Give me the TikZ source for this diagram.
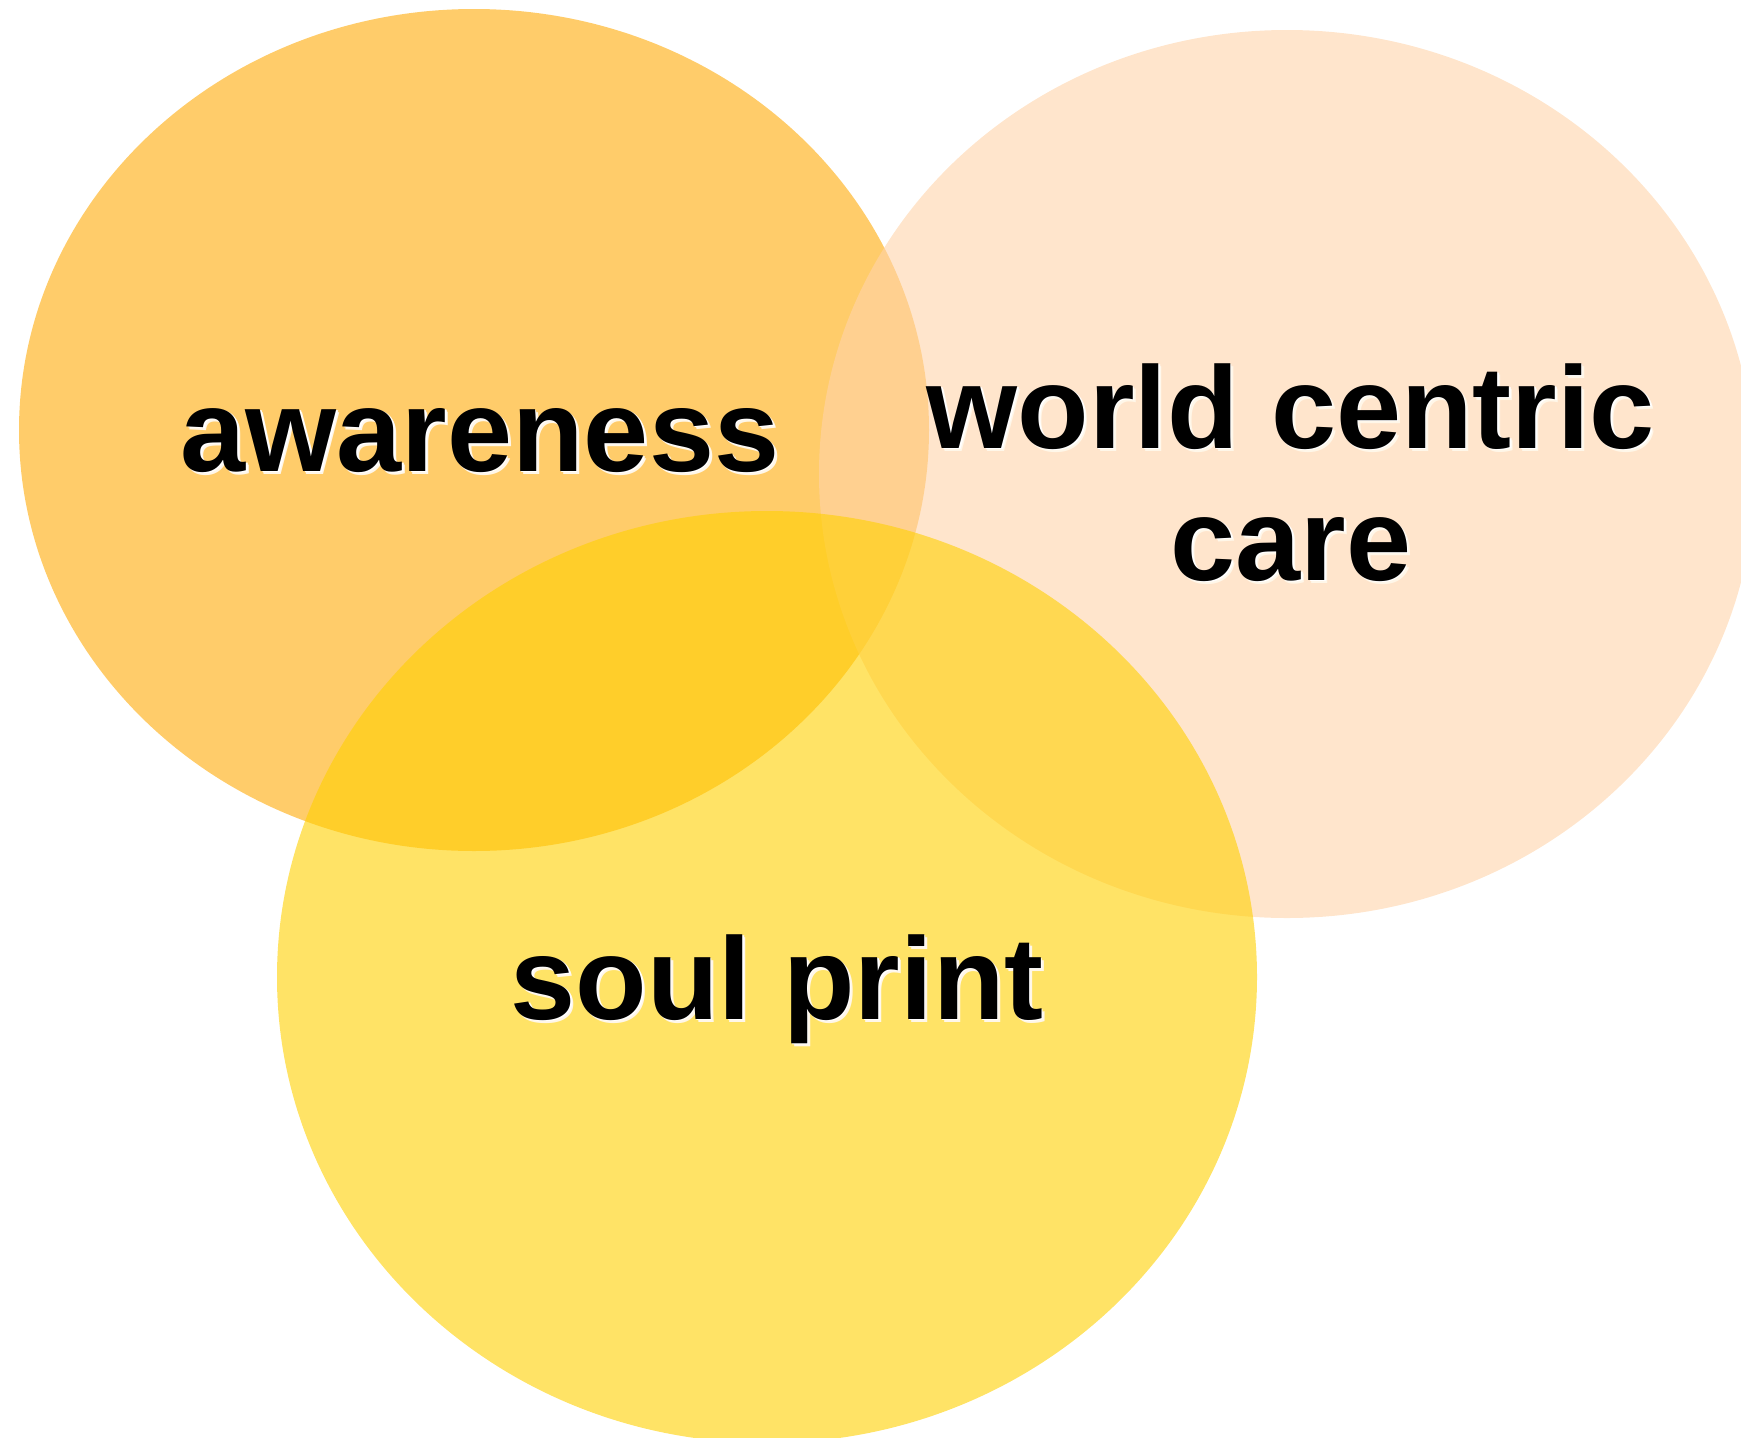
\documentclass[tikz,border=0pt]{standalone}
\usepackage{fontspec}
\newfontfamily\vennfont{Liberation Sans}
\definecolor{awarecol}{HTML}{FFCC6A}
\definecolor{worldcol}{HTML}{FFD4AA}
\definecolor{soulcol}{HTML}{FFD000}
% soft white edge down and right of each word
\newcommand\haloword[1]{%
  \rlap{\hspace{3pt}\raisebox{-3pt}{\color{white!85!awarecol}#1}}%
  \rlap{\hspace{1.5pt}\raisebox{-1.5pt}{\color{white}#1}}#1}

\begin{document}
\begin{tikzpicture}[x=1pt,y=-1pt,
    vennlabel/.style={font=\vennfont\bfseries\fontsize{117}{132}\selectfont,
      inner sep=0pt, anchor=base}]
  \useasboundingbox (0,0) rectangle (1741,1438);
  % the three sets
  \fill[awarecol] (474,430) ellipse [x radius=455, y radius=421];
  \fill[worldcol, fill opacity=0.6] (1287,474) ellipse [x radius=468, y radius=444];
  \fill[soulcol, fill opacity=0.6] (767,977) ellipse [x radius=490, y radius=466];
  % labels
  \node[vennlabel] (aware) at (480,471) {\haloword{awareness}};
  \node[vennlabel] (world) at (1291,448) {\haloword{world centric}};
  \node[vennlabel] (care) at ([yshift=-132pt]world.base) {\haloword{care}};
  \node[vennlabel] (soul) at (777,1019) {\haloword{soul print}};
\end{tikzpicture}
\end{document}
